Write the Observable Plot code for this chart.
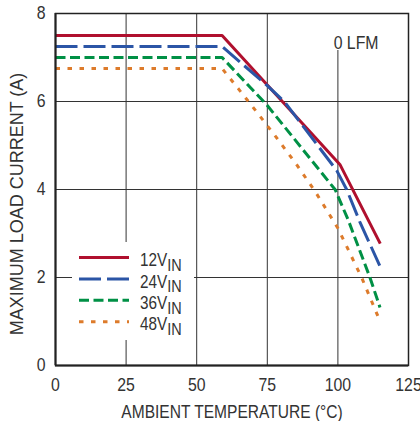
<!DOCTYPE html>
<html><head><meta charset="utf-8">
<script src="https://cdn.jsdelivr.net/npm/d3@7"></script>
<script src="https://cdn.jsdelivr.net/npm/@observablehq/plot@0.6"></script>
<style>
html,body{margin:0;padding:0;background:#fff;}
#chart{width:420px;height:421px;}
</style></head><body><div id="chart"></div>
<script>
const FONT = '"Liberation Sans", Arial, sans-serif';

// Series labels, colours, dash styles
const seriesNames = ["12V", "24V", "36V", "48V"];
const seriesColors = ["#b0102e", "#2b55a6", "#009045", "#dd7b2b"];
const seriesDash = [null, "22,6", "10,4.5", "4.5,7.5"];

// Values (temperature °C, max load current A)
const temp12 = [0, 59, 100.7, 115];
const load12 = [7.5, 7.5, 4.57, 2.77];
const temp24 = [0, 59, 75, 81, 99.6, 103.1, 107.8, 114.8];
const load24 = [7.25, 7.25, 6.36, 6.0, 4.43, 4.0, 3.26, 2.27];
const temp36 = [0, 59, 75, 99, 103.7, 111.4, 114.9];
const load36 = [7.0, 7.0, 5.91, 4.0, 3.3, 1.99, 1.32];
const temp48 = [0, 59, 65, 72, 78, 85, 92, 100, 108.4, 114.3];
const load48 = [6.75, 6.75, 6.27, 5.7, 5.2, 4.6, 3.95, 3.12, 2.0, 1.1];

const xTicks = [0, 25, 50, 75, 100, 125];
const yTicks = [0, 2, 4, 6, 8];
const xGrid = [25, 50, 75, 100];
const yGrid = [2, 4, 6];
const xLabel = "AMBIENT TEMPERATURE (°C)";
const yLabel = "MAXIMUM LOAD CURRENT (A)";
const note = "0 LFM";

const temps = [temp12, temp24, temp36, temp48];
const loads = [load12, load24, load36, load48];
const series = seriesNames.map((name, k) => temps[k].map((t, i) => ({t, i: loads[k][i], s: name})));

const plot = Plot.plot({
  width: 420, height: 421,
  marginLeft: 55, marginRight: 12, marginTop: 13, marginBottom: 56,
  style: {fontFamily: FONT, fontSize: "18px", color: "#333", background: "#fff"},
  x: {domain: [0, 125]},
  y: {domain: [0, 8]},
  marks: [
    Plot.ruleX(xGrid, {stroke: "#333", strokeWidth: 1}),
    Plot.ruleY(yGrid, {stroke: "#333", strokeWidth: 1}),
    ...series.map((d, k) => Plot.line(d, {
      x: "t", y: "i", stroke: seriesColors[k], strokeWidth: 3,
      strokeDasharray: seriesDash[k] || undefined, strokeLinecap: "butt", strokeLinejoin: "miter"
    })),
    Plot.frame({stroke: "#222", strokeWidth: 1.5}),
    Plot.ruleX([0], {stroke: "#222", strokeWidth: 2}),
    Plot.ruleY([0], {stroke: "#222", strokeWidth: 2}),
    Plot.axisX(xTicks, {tickSize: 0, tickPadding: 13, label: null, fontSize: 18}),
    Plot.axisY(yTicks, {tickSize: 0, tickPadding: 10, label: null, fontSize: 18}),
    Plot.text([xLabel], {frameAnchor: "bottom", lineAnchor: "bottom", dy: 52, fontSize: 18, fill: "#333"}),
    Plot.text([yLabel], {frameAnchor: "left", textAnchor: "middle", rotate: -90, dx: -38, dy: 14.5, fontSize: 18, fill: "#333"}),
    Plot.text([note], {frameAnchor: "top-right", textAnchor: "end", lineAnchor: "bottom", dx: -30, dy: 35, fontSize: 18, fill: "#333"})
  ]
});

document.getElementById("chart").appendChild(plot);

// condense every Plot text around its own anchor (condensed typeface look)
plot.querySelectorAll("text").forEach(t => {
  const tr = t.getAttribute("transform");
  const s = t.textContent === xLabel ? 0.865 : t.textContent === yLabel ? 1.0 : 0.88;
  if (tr && s !== 1) t.setAttribute("transform", tr + ` scale(${s},1)`);
});

// white backgrounds behind legend and note, drawn between grid and lines
const firstLine = plot.querySelector('g[aria-label="line"]');
const bg = document.createElementNS("http://www.w3.org/2000/svg", "g");
plot.insertBefore(bg, firstLine);
d3.select(bg).append("rect").attr("x", 72).attr("y", 242).attr("width", 122).attr("height", 98).attr("fill", "#fff");
d3.select(bg).append("rect").attr("x", 328).attr("y", 14).attr("width", 60).attr("height", 36).attr("fill", "#fff");

// legend
const leg = d3.select(plot).append("g").attr("font-family", FONT).attr("fill", "#333").attr("text-anchor", "start");
seriesNames.forEach((name, k) => {
  const y = 257.5 + k * 21.4;
  leg.append("line").attr("x1", 79).attr("x2", 129).attr("y1", y).attr("y2", y)
    .attr("stroke", seriesColors[k]).attr("stroke-width", 3)
    .attr("stroke-dasharray", seriesDash[k]);
  const t = leg.append("text").attr("transform", `translate(140,${y + 8.7}) scale(0.85,1)`)
    .attr("font-size", 18).attr("text-anchor", "start");
  t.append("tspan").text(name);
  t.append("tspan").attr("dy", 4.7).attr("font-size", 17).text("IN");
});
</script>
</body></html>
